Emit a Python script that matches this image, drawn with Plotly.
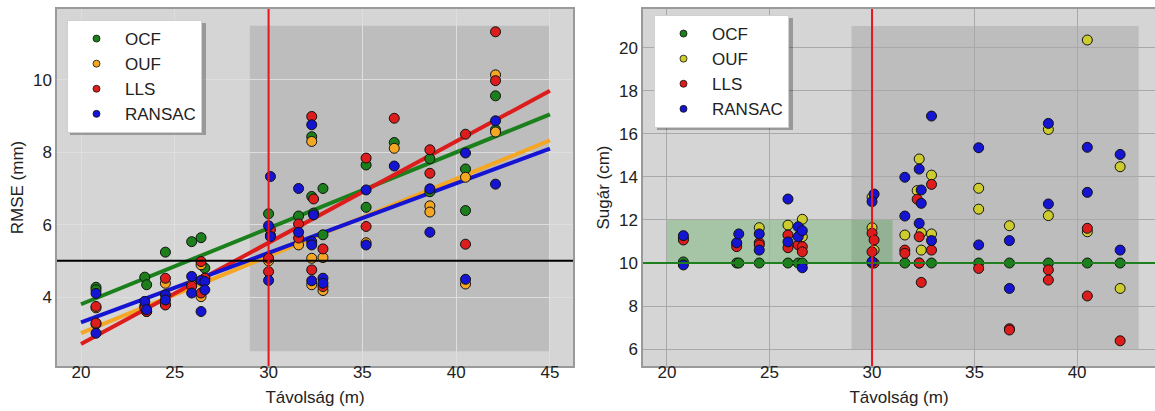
import plotly.graph_objects as go

# ---------------- data: left panel (RMSE, mm) ----------------
ocf_x = [20.8, 20.8, 23.4, 23.5, 24.5, 25.9, 26.4, 26.6, 30.0, 30.1, 31.6, 32.3, 32.3, 32.4,
         32.9, 32.9, 35.2, 35.2, 36.7, 38.6, 38.6, 40.5, 40.5, 42.1, 42.1]
ocf_rmse = [4.27, 4.2, 4.55, 4.34, 5.24, 5.53, 5.64, 4.8, 6.30, 5.69, 6.24, 8.43, 6.78, 6.32,
            7.0, 5.72, 7.65, 6.48, 8.27, 7.82, 6.91, 7.54, 6.39, 9.56, 8.62]

ouf_x = [20.8, 20.8, 23.4, 23.5, 24.5, 24.5, 25.9, 26.4, 26.4, 26.6, 30.0, 30.1, 31.6, 32.3,
         32.3, 32.3, 32.9, 32.9, 35.2, 36.7, 38.6, 38.6, 40.5, 40.5, 42.1, 42.1]
ouf_rmse = [3.25, 3.7, 3.75, 3.6, 4.38, 3.8, 4.34, 4.89, 4.01, 4.5, 5.0, 5.7, 5.44, 8.30,
            5.07, 4.34, 5.09, 4.18, 5.5, 8.11, 6.52, 6.35, 7.31, 4.36, 10.14, 8.56]

lls_x = [20.8, 20.8, 23.4, 23.5, 24.5, 24.5, 25.9, 26.4, 26.4, 26.6, 30.1, 30.0, 30.0, 31.6,
         31.6, 32.3, 32.4, 32.3, 32.9, 32.9, 35.2, 35.2, 36.7, 38.6, 38.6, 40.5, 40.5, 42.1, 42.1]
lls_rmse = [3.74, 3.28, 3.7, 3.6, 4.52, 3.78, 4.3, 4.98, 4.11, 4.52, 5.86, 5.07, 4.70, 6.02,
            5.63, 8.99, 6.71, 4.75, 5.33, 4.29, 7.84, 5.95, 8.94, 8.07, 7.42, 8.5, 5.46, 11.33, 9.98]

ran_x = [20.8, 20.8, 23.4, 23.5, 24.5, 24.5, 25.9, 25.9, 26.4, 26.4, 26.6, 26.6, 30.1, 30.0,
         30.1, 30.0, 31.6, 31.6, 32.3, 32.4, 32.3, 32.3, 32.3, 32.9, 32.9, 35.2, 35.2, 36.7,
         38.6, 38.6, 40.5, 40.5, 42.1, 42.1]
ran_rmse = [4.1, 3.0, 3.88, 3.65, 4.06, 3.92, 4.57, 4.11, 4.46, 3.6, 4.43, 4.2, 7.33, 5.97,
            5.67, 4.46, 7.0, 5.79, 8.76, 6.27, 5.53, 5.44, 4.45, 4.52, 4.38, 6.96, 5.44, 7.62,
            6.99, 5.79, 7.98, 4.49, 8.87, 7.12]

# fitted trend lines (value at x = 20 and x = 45)
fit_x = [20, 45]
ocf_fit = [3.8, 9.05]
ouf_fit = [3.0, 8.33]
lls_fit = [2.7, 9.7]
ran_fit = [3.3, 8.1]

# ---------------- data: right panel (Sugár, cm) ----------------
ocf_rx = [20.8, 23.4, 23.5, 24.5, 25.9, 26.4, 26.6, 30.0, 31.6, 32.3, 32.9, 35.2, 36.7, 38.6, 40.5, 42.1]
ocf_r = [10.05, 10.0, 10.0, 10.0, 10.0, 10.0, 10.0, 10.0, 10.0, 10.0, 10.0, 10.0, 10.0, 10.0, 10.0, 10.0]

ouf_rx = [20.8, 23.4, 24.5, 25.9, 26.6, 26.6, 30.0, 30.0, 30.1, 31.6, 32.3, 32.2, 32.4, 32.4,
          32.9, 32.9, 35.2, 35.2, 36.7, 38.6, 38.6, 40.5, 40.5, 42.1, 42.1]
ouf_r = [11.15, 10.9, 11.64, 11.76, 12.03, 11.22, 13.05, 11.64, 10.6, 11.3, 14.83, 13.36, 11.41, 10.6,
         14.08, 11.35, 13.47, 12.5, 11.73, 16.2, 12.2, 20.35, 11.45, 14.47, 8.82]

lls_rx = [20.8, 23.4, 24.5, 24.5, 25.9, 25.9, 26.4, 26.6, 26.6, 30.0, 30.1, 30.0, 30.1, 31.6,
          31.6, 32.2, 32.3, 32.3, 32.4, 32.9, 32.9, 35.2, 36.7, 36.7, 38.6, 38.6, 40.5, 40.5, 42.1]
lls_r = [11.07, 10.76, 10.94, 10.84, 11.3, 10.71, 10.84, 10.76, 10.52, 11.38, 11.07, 10.52, 10.0, 10.6,
         10.45, 12.96, 11.22, 10.0, 9.1, 13.65, 10.6, 9.75, 6.95, 6.89, 9.68, 9.21, 11.61, 8.47, 6.39]

ran_rx = [20.8, 20.8, 23.4, 23.5, 24.5, 24.5, 25.9, 25.9, 26.4, 26.4, 26.6, 26.6, 30.1, 30.0,
          30.0, 31.6, 31.6, 32.3, 32.4, 32.4, 32.3, 32.9, 32.9, 35.2, 35.2, 36.7, 36.7, 38.6,
          38.6, 40.5, 40.5, 42.1, 42.1]
ran_r = [11.27, 9.91, 10.94, 11.35, 11.35, 10.6, 12.97, 10.98, 11.68, 11.22, 11.5, 9.78, 13.2, 12.85,
         10.06, 13.98, 12.18, 14.36, 13.39, 12.77, 11.84, 16.82, 11.04, 15.35, 10.84, 11.04, 8.82, 16.48,
         12.74, 15.37, 13.28, 15.04, 10.6]

labels = ["OCF", "OUF", "LLS", "RANSAC"]
left_colors = ["#1b801b", "#f5a623", "#dd1c1c", "#1414d2"]
right_colors = ["#1b801b", "#cccc2e", "#dd1c1c", "#1414d2"]

FONT = "Liberation Sans, Arial, sans-serif"
fig = go.Figure()

# trend lines (left)
for fy, c in zip([ocf_fit, ouf_fit, lls_fit, ran_fit], left_colors):
    fig.add_trace(go.Scatter(x=fit_x, y=fy, mode="lines", line=dict(color=c, width=4),
                             showlegend=False, hoverinfo="skip", xaxis="x", yaxis="y"))

left_sets = [(ocf_x, ocf_rmse), (ouf_x, ouf_rmse), (lls_x, lls_rmse), (ran_x, ran_rmse)]
right_sets = [(ocf_rx, ocf_r), (ouf_rx, ouf_r), (lls_rx, lls_r), (ran_rx, ran_r)]

for (xs, ys), c, lab in zip(left_sets, left_colors, labels):
    fig.add_trace(go.Scatter(x=xs, y=ys, mode="markers", name=lab,
                             marker=dict(color=c, size=10, line=dict(color="#111", width=1)),
                             showlegend=False, xaxis="x", yaxis="y"))
for (xs, ys), c, lab in zip(right_sets, right_colors, labels):
    fig.add_trace(go.Scatter(x=xs, y=ys, mode="markers", name=lab,
                             marker=dict(color=c, size=10, line=dict(color="#111", width=1)),
                             showlegend=False, xaxis="x2", yaxis="y2"))

# legend entries (small markers as in the reference)
for c, lab in zip(left_colors, labels):
    fig.add_trace(go.Scatter(x=[None], y=[None], mode="markers", name=lab,
                             marker=dict(color=c, size=7, line=dict(color="#111", width=0.8)),
                             legend="legend", xaxis="x", yaxis="y"))
for c, lab in zip(right_colors, labels):
    fig.add_trace(go.Scatter(x=[None], y=[None], mode="markers", name=lab,
                             marker=dict(color=c, size=7, line=dict(color="#111", width=0.8)),
                             legend="legend2", xaxis="x2", yaxis="y2"))

W, H = 1155, 411
T, B = 9, 45
PH = H - T - B


def py(p):
    """pixel row -> paper y"""
    return 1 - (p - T) / PH


shapes = [
    # left panel
    dict(type="rect", xref="x", yref="y", x0=29, x1=45, y0=2.5, y1=11.5,
         fillcolor="rgba(0,0,0,0.11)", line=dict(width=0), layer="below"),
    dict(type="line", xref="x domain", yref="y", x0=0, x1=1, y0=5, y1=5,
         line=dict(color="black", width=2)),
    dict(type="line", xref="x", yref="y domain", x0=30, x1=30, y0=0, y1=1,
         line=dict(color="#e8141e", width=2)),
    # right panel
    dict(type="rect", xref="x2", yref="y2", x0=29, x1=43, y0=6, y1=21,
         fillcolor="rgba(0,0,0,0.11)", line=dict(width=0), layer="below"),
    dict(type="rect", xref="x2", yref="y2", x0=20, x1=31, y0=10, y1=12,
         fillcolor="rgba(0,140,0,0.22)", line=dict(width=0), layer="below"),
    dict(type="line", xref="x2 domain", yref="y2", x0=0, x1=1, y0=10, y1=10,
         line=dict(color="#1f7f1f", width=2)),
    dict(type="line", xref="x2", yref="y2 domain", x0=30, x1=30, y0=0, y1=1,
         line=dict(color="#e8141e", width=2)),
    # legend shadows
    dict(type="rect", xref="paper", yref="paper", x0=70 / W, x1=206 / W, y0=py(135), y1=py(23),
         fillcolor="rgba(0,0,0,0.28)", line=dict(width=0), layer="above"),
    dict(type="rect", xref="paper", yref="paper", x0=657 / W, x1=793 / W, y0=py(130), y1=py(18),
         fillcolor="rgba(0,0,0,0.28)", line=dict(width=0), layer="above"),
]

axis_common = dict(showline=True, linecolor="#9a9a9a", linewidth=1.5,
                   ticks="", ticklen=0, zeroline=False, automargin=False,
                   tickfont=dict(size=17, color="#222", family=FONT))

fig.update_layout(
    width=W, height=H,
    margin=dict(l=0, r=0, t=T, b=B, pad=0),
    paper_bgcolor="white", plot_bgcolor="#d5d5d5",
    font=dict(family=FONT, size=17, color="#222"),
    shapes=shapes,
    xaxis=dict(domain=[57 / W, 573 / W], range=[18.72, 46.23], tickvals=[20, 25, 30, 35, 40, 45],
               showgrid=True, gridcolor="#dedede", gridwidth=1, ticklabelstandoff=-10, mirror=True,
               title=dict(text="Távolság (m)", font=dict(size=17), standoff=10), **axis_common),
    yaxis=dict(domain=[0, 1], range=[2.094, 11.96], tickvals=[4, 6, 8, 10], mirror=True,
               showgrid=True, gridcolor="#dedede", gridwidth=1,
               title=dict(text="RMSE (mm)", font=dict(size=17), standoff=5), **axis_common),
    xaxis2=dict(domain=[643 / W, 1.0], range=[18.83, 43.8], tickvals=[20, 25, 30, 35, 40],
                anchor="y2", showgrid=True, gridcolor="#a9a9a9", gridwidth=1, ticklabelstandoff=-10,
                mirror=True,
                title=dict(text="Távolság (m)", font=dict(size=17), standoff=10), **axis_common),
    yaxis2=dict(domain=[0, 1], range=[5.22, 21.79], tickvals=[6, 8, 10, 12, 14, 16, 18, 20],
                anchor="x2", showgrid=True, gridcolor="#a9a9a9", gridwidth=1, mirror=False,
                title=dict(text="Sugár (cm)", font=dict(size=17), standoff=5), **axis_common),
    legend=dict(x=67 / W, y=py(20), xanchor="left", yanchor="top",
                bgcolor="white", bordercolor="#d0d0d0", borderwidth=1,
                font=dict(size=17, family=FONT, color="#222"), tracegroupgap=0, itemwidth=47),
    legend2=dict(x=654 / W, y=py(15), xanchor="left", yanchor="top",
                 bgcolor="white", bordercolor="#d0d0d0", borderwidth=1,
                 font=dict(size=17, family=FONT, color="#222"), tracegroupgap=0, itemwidth=47),
)

fig.write_html("out.html")
